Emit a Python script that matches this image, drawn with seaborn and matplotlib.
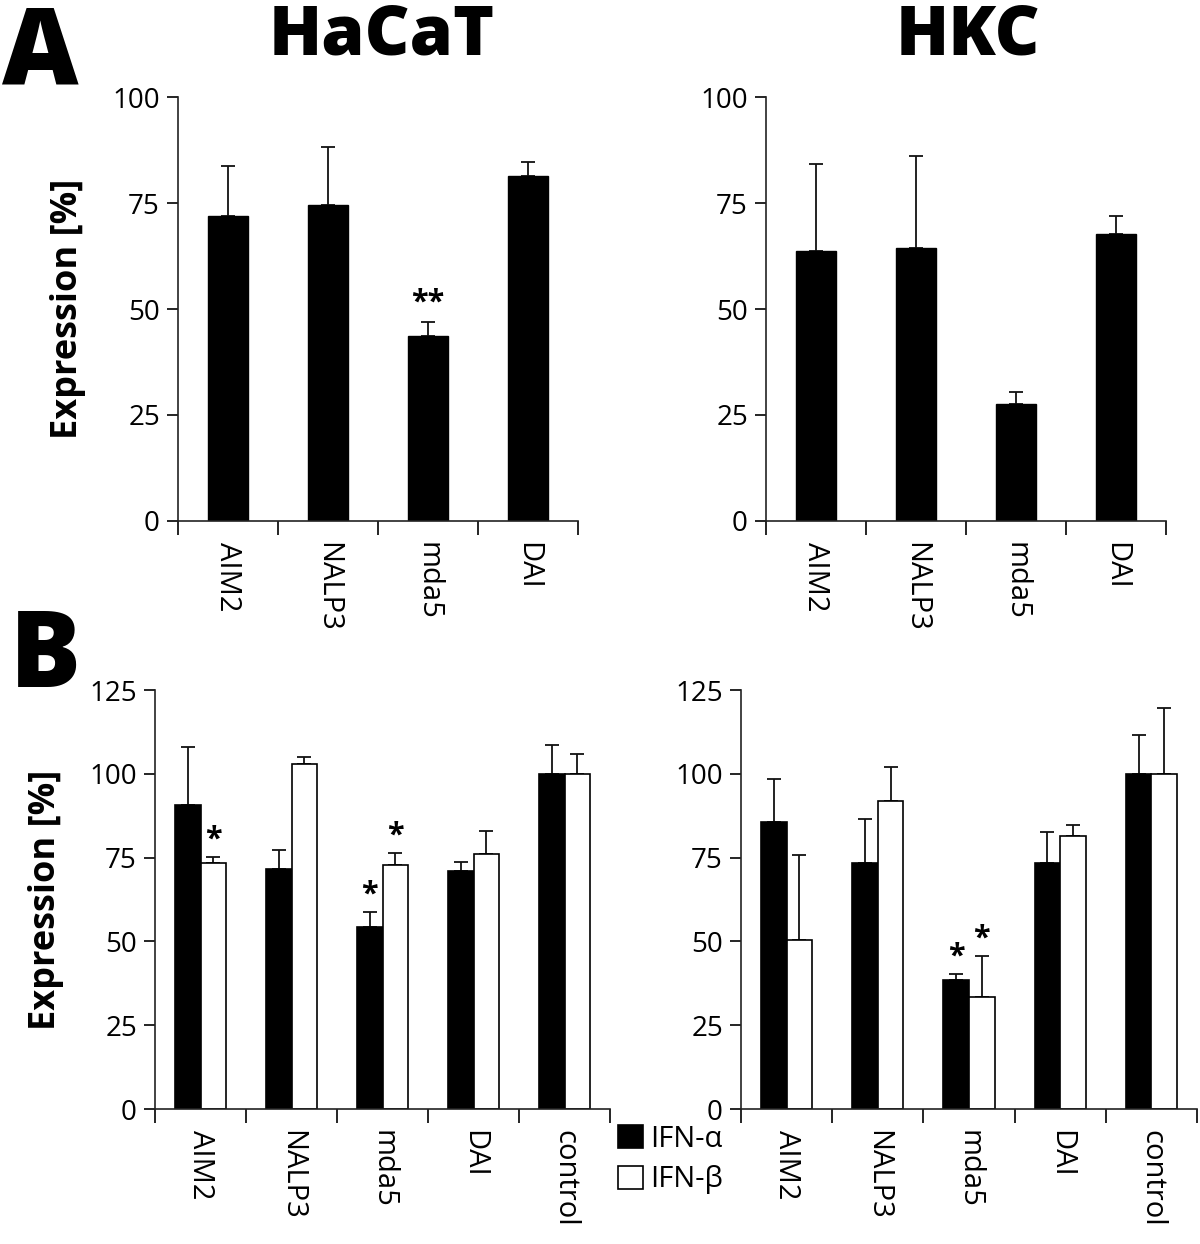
"""
Expression des senseurs (AIM2, NALP3, mda5, DAI) dans HaCaT et HKC.
"""

import numpy as np
import pandas as pd
import matplotlib
matplotlib.use("Agg")
import matplotlib.pyplot as plt
import matplotlib.patches as mpatches
import seaborn as sns

# ─────────────────────────────────────────────
# Données
# ─────────────────────────────────────────────
genes_a = ["AIM2", "NALP3", "mda5", "DAI"]
hacat_a = [71.9, 74.5, 43.7, 81.3]
hacat_a_err = [83.8, 88.1, 46.9, 84.7]        # haut de la barre d'erreur
hacat_a_stars = ["", "", "**", ""]
hkc_a = [63.8, 64.3, 27.7, 67.7]
hkc_a_err = [84.3, 86.2, 30.5, 72.0]
hkc_a_stars = ["", "", "", ""]

genes_b = ["AIM2", "NALP3", "mda5", "DAI", "control"]
traitements = ["IFN-α", "IFN-β"]
hacat_b_alpha = [90.7, 71.6, 54.3, 71.1, 100.0]
hacat_b_alpha_err = [108.1, 77.2, 58.7, 73.6, 108.7]
hacat_b_alpha_stars = ["", "", "*", "", ""]
hacat_b_beta = [73.3, 103.0, 72.9, 76.1, 100.0]
hacat_b_beta_err = [75.1, 104.9, 76.4, 82.8, 106.0]
hacat_b_beta_stars = ["*", "", "*", "", ""]
hkc_b_alpha = [85.6, 73.3, 38.4, 73.5, 100.0]
hkc_b_alpha_err = [98.6, 86.4, 40.2, 82.5, 111.5]
hkc_b_alpha_stars = ["", "", "*", "", ""]
hkc_b_beta = [50.4, 92.0, 33.4, 81.6, 100.0]
hkc_b_beta_err = [75.9, 101.9, 45.6, 84.6, 119.7]
hkc_b_beta_stars = ["", "", "*", "", ""]

sns.set_style("ticks")
plt.rcParams["font.family"] = ["Open Sans", "DejaVu Sans"]
plt.rcParams["axes.linewidth"] = 1.2
plt.rcParams["xtick.major.width"] = 1.2
plt.rcParams["ytick.major.width"] = 1.2
for cle in ["text.color", "axes.labelcolor", "xtick.color", "ytick.color", "axes.edgecolor"]:
    plt.rcParams[cle] = "black"


def habiller_axe(ax, cats, ymax, pas):
    """Axes à la manière Excel : ticks x aux frontières, labels verticaux."""
    n = len(cats)
    ax.set_xlim(-0.5, n - 0.5)
    ax.set_ylim(0, ymax)
    ax.set_yticks(np.arange(0, ymax + 1, pas))
    ax.tick_params(axis="y", length=8, labelsize=20, colors="black", pad=5)
    ax.set_xticks(np.arange(n + 1) - 0.5)
    ax.set_xticklabels([])
    ax.tick_params(axis="x", which="major", length=10, direction="out")
    ax.set_xticks(np.arange(n), minor=True)
    ax.set_xticklabels(cats, minor=True, rotation=-90, fontsize=21, va="top", ha="center")
    ax.tick_params(axis="x", which="minor", length=0, pad=15)
    ax.set_xlabel("")
    ax.set_ylabel("")
    sns.despine(ax=ax)
    for s in ["left", "bottom"]:
        ax.spines[s].set_color("#222222")


def erreurs(ax, barres, valeurs, hauts, etoiles, dy):
    for b, v, h, e in zip(barres, valeurs, hauts, etoiles):
        xc = b.get_x() + b.get_width() / 2
        ax.errorbar(xc, v, yerr=[[0], [h - v]], fmt="none", ecolor="#111111",
                    elinewidth=1.3, capsize=5, capthick=1.3, zorder=1)
        if e:
            ax.text(xc, h + dy, e, ha="center", va="bottom", fontsize=22,
                    fontweight="bold", color="black")


fig = plt.figure(figsize=(12, 12.44), dpi=100)

# ── Panel A ──
axes_a = [fig.add_axes([0.1483, 0.5812, 0.3333, 0.3408]),
          fig.add_axes([0.6383, 0.5812, 0.3333, 0.3408])]
jeux_a = [(hacat_a, hacat_a_err, hacat_a_stars), (hkc_a, hkc_a_err, hkc_a_stars)]
for ax, (vals, errs, stars) in zip(axes_a, jeux_a):
    df = pd.DataFrame({"gene": genes_a, "val": vals})
    sns.barplot(data=df, x="gene", y="val", color="black", width=0.4, saturation=1,
                edgecolor="black", errorbar=None, ax=ax, zorder=2)
    erreurs(ax, ax.containers[0], vals, errs, stars, 1.0)
    habiller_axe(ax, genes_a, 100, 25)

# ── Panel B ──
axes_b = [fig.add_axes([0.1292, 0.1085, 0.3792, 0.3368]),
          fig.add_axes([0.6175, 0.1085, 0.3800, 0.3368])]
jeux_b = [
    [(hacat_b_alpha, hacat_b_alpha_err, hacat_b_alpha_stars),
     (hacat_b_beta, hacat_b_beta_err, hacat_b_beta_stars)],
    [(hkc_b_alpha, hkc_b_alpha_err, hkc_b_alpha_stars),
     (hkc_b_beta, hkc_b_beta_err, hkc_b_beta_stars)],
]
for ax, series in zip(axes_b, jeux_b):
    df = pd.DataFrame({
        "gene": genes_b * 2,
        "traitement": [traitements[0]] * len(genes_b) + [traitements[1]] * len(genes_b),
        "val": series[0][0] + series[1][0],
    })
    sns.barplot(data=df, x="gene", y="val", hue="traitement", palette=["black", "white"],
                width=0.56, gap=0, saturation=1, edgecolor="black", linewidth=1.2,
                errorbar=None, legend=False, ax=ax, zorder=2)
    for cont, (vals, errs, stars) in zip(ax.containers, series):
        erreurs(ax, cont, vals, errs, stars, 0.8)
    habiller_axe(ax, genes_b, 125, 25)

# ── Textes ──
fig.text(0.034, 0.955, "A", fontsize=76, fontweight="heavy", ha="center", va="center")
fig.text(0.038, 0.470, "B", fontsize=76, fontweight="heavy", ha="center", va="center")
fig.text(0.318, 0.971, "HaCaT", fontsize=50, fontweight="heavy", ha="center", va="center")
fig.text(0.807, 0.971, "HKC", fontsize=50, fontweight="heavy", ha="center", va="center")
fig.text(0.057, 0.752, "Expression [%]", fontsize=26, fontweight="bold", rotation=90,
         ha="center", va="center")
fig.text(0.038, 0.277, "Expression [%]", fontsize=26, fontweight="bold", rotation=90,
         ha="center", va="center")

poignees = [mpatches.Patch(facecolor="black", edgecolor="black", linewidth=1.2),
            mpatches.Patch(facecolor="white", edgecolor="black", linewidth=1.2)]
fig.legend(poignees, traitements, loc="upper left", bbox_to_anchor=(0.515, 0.096),
           frameon=False, fontsize=21, handlelength=0.85, handleheight=0.85,
           handletextpad=0.25, labelspacing=0.4, borderaxespad=0, borderpad=0)

plt.savefig("out.png", dpi=100)
plt.close()
